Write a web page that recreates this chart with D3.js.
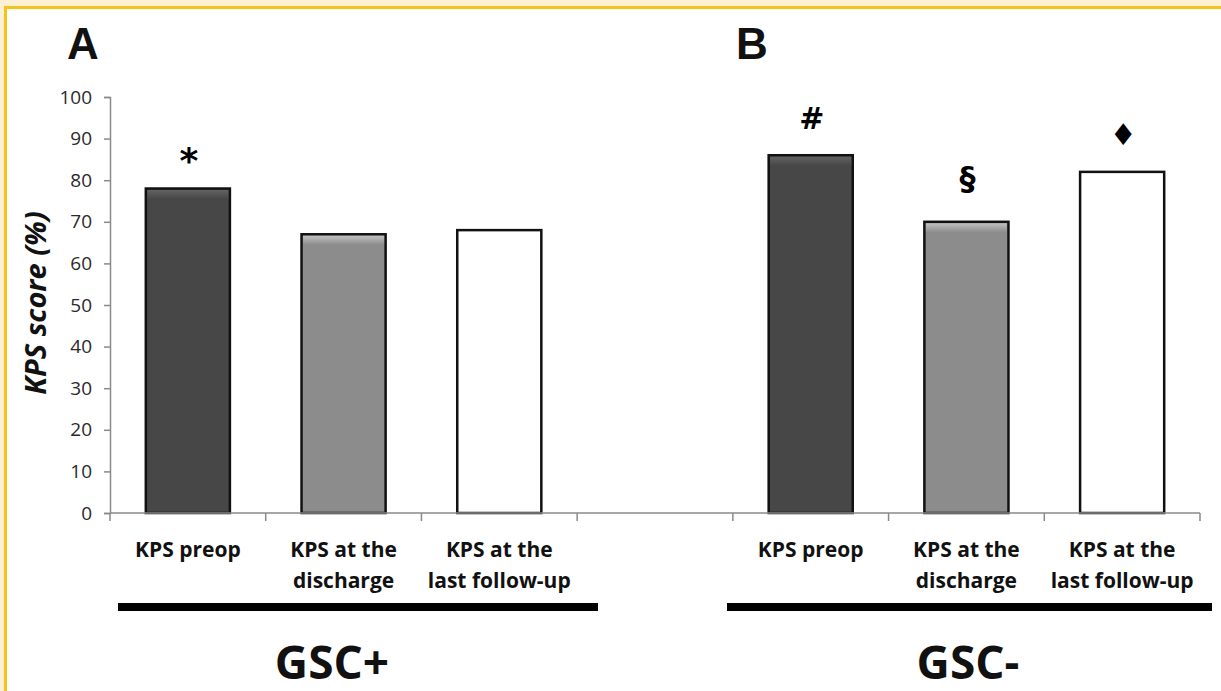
<!DOCTYPE html>
<html>
<head>
<meta charset="utf-8">
<script src="https://cdn.jsdelivr.net/npm/d3@7"></script>
<style>
  body { margin: 0; background: #fdf0d3; }
  svg { display: block; }
</style>
</head>
<body>
<script>
// chart values
var groups = ["GSC+", "GSC-"];
var panels = ["A", "B"];
var categoryLines = [["KPS preop"], ["KPS at the", "discharge"], ["KPS at the", "last follow-up"]];
var gscPlus = [78, 67, 68];
var gscMinus = [86, 70, 82];
var marksPlus = ["*", "", ""];
var marksMinus = ["#", "§", "\u2666"];
var yTicks = [0, 10, 20, 30, 40, 50, 60, 70, 80, 90, 100];
var fills = ["#474747", "#8c8c8c", "#ffffff"];

var W = 1221, H = 691;

var svg = d3.select("body").append("svg")
  .attr("width", W)
  .attr("height", H);

// frame: cream strip, gold rule, white sheet
svg.append("rect").attr("x", 0).attr("y", 0).attr("width", W).attr("height", H).attr("fill", "#fdf0d3");
svg.append("rect").attr("x", 4).attr("y", 6).attr("width", W).attr("height", H).attr("fill", "#f6c21c");
svg.append("rect").attr("x", 7).attr("y", 9).attr("width", W).attr("height", H).attr("fill", "#ffffff");

// build rows: three slots per group with an empty slot between groups
var rows = [];
[gscPlus, gscMinus].forEach(function(vals, g) {
  var marks = g == 0 ? marksPlus : marksMinus;
  vals.forEach(function(v, i) {
    rows.push({key: groups[g] + i, group: g, idx: i, value: v, mark: marks[i]});
  });
});
var domain = rows.slice(0, 3).map(function(d){ return d.key; })
  .concat(["gap"])
  .concat(rows.slice(3).map(function(d){ return d.key; }));

var x = d3.scaleBand().domain(domain).range([110, 1200]).padding(0);
var y = d3.scaleLinear().domain([0, 100]).range([513, 97]);

var barW = x.bandwidth() * 0.54;

// y axis
var yAxis = svg.append("g")
  .attr("transform", "translate(110,0)")
  .call(d3.axisLeft(y).tickValues(yTicks).tickSize(6).tickPadding(12));
yAxis.select(".domain").attr("stroke", "#8a8a8a").attr("stroke-width", 1.5);
yAxis.selectAll(".tick line").attr("stroke", "#8a8a8a").attr("stroke-width", 1.5);
yAxis.selectAll(".tick text")
  .attr("font-family", "'Open Sans', sans-serif")
  .attr("font-size", "19px")
  .attr("fill", "#2a2a2a");

// gradient for the bevelled top of each bar
var defs = svg.append("defs");
fills.forEach(function(c, i) {
  var gr = defs.append("linearGradient").attr("id", "bev" + i)
    .attr("x1", 0).attr("y1", 0).attr("x2", 0).attr("y2", 1);
  gr.append("stop").attr("offset", "0%").attr("stop-color", d3.color(c).brighter(0.9));
  gr.append("stop").attr("offset", "100%").attr("stop-color", c);
});

var bars = svg.selectAll(".bar").data(rows).enter().append("g").attr("class", "bar");
bars.append("rect")
  .attr("x", function(d){ return x(d.key) + (x.bandwidth() - barW) / 2; })
  .attr("y", function(d){ return y(d.value); })
  .attr("width", barW)
  .attr("height", function(d){ return y(0) - y(d.value); })
  .attr("fill", function(d){ return fills[d.idx]; })
  .attr("stroke", "#111")
  .attr("stroke-width", 2.5);
bars.filter(function(d){ return d.idx < 2; }).append("rect")
  .attr("x", function(d){ return x(d.key) + (x.bandwidth() - barW) / 2 + 1.5; })
  .attr("y", function(d){ return y(d.value) + 1.5; })
  .attr("width", barW - 3)
  .attr("height", 9)
  .attr("fill", function(d){ return "url(#bev" + d.idx + ")"; });

// x axis with ticks at slot boundaries
var xa = svg.append("g");
xa.append("line").attr("x1", 110).attr("x2", 1200).attr("y1", y(0)).attr("y2", y(0))
  .attr("stroke", "#8a8a8a").attr("stroke-width", 1.5);
xa.selectAll(".xt").data(domain.concat(["end"])).enter().append("line")
  .attr("x1", function(d){ return d == "end" ? 1200 : x(d); })
  .attr("x2", function(d){ return d == "end" ? 1200 : x(d); })
  .attr("y1", y(0)).attr("y2", y(0) + 8)
  .attr("stroke", "#8a8a8a").attr("stroke-width", 1.5);

// category labels
var lab = svg.selectAll(".cat").data(rows).enter().append("text")
  .attr("class", "cat")
  .attr("text-anchor", "middle")
  .attr("font-family", "'Open Sans', sans-serif")
  .attr("font-weight", "bold")
  .attr("font-size", "21px")
  .attr("fill", "#111");
lab.selectAll("tspan").data(function(d){
    return categoryLines[d.idx].map(function(t){ return {t: t, cx: x(d.key) + x.bandwidth() / 2}; });
  }).enter().append("tspan")
  .attr("x", function(d){ return d.cx; })
  .attr("y", function(d, i){ return 557 + i * 31; })
  .text(function(d){ return d.t; });

// significance marks, centred a fixed gap above each bar
svg.selectAll(".mark").data(rows.filter(function(d){ return d.mark; })).enter().append("text")
  .attr("text-anchor", "middle")
  .attr("x", function(d){ return x(d.key) + x.bandwidth() / 2 + 1; })
  .attr("y", function(d){ return y(d.value) - (d.mark == "§" ? 44 : 37); })
  .attr("dominant-baseline", "central")
  .attr("font-family", "'DejaVu Sans', sans-serif")
  .attr("font-weight", "bold")
  .attr("font-size", function(d){ return d.mark == "*" ? "36px" : d.mark == "§" ? "32px" : "30px"; })
  .attr("dy", function(d){ return d.mark == "*" ? "0.25em" : "0"; })
  .text(function(d){ return d.mark; });

// group bars and names
var groupSpan = [[118, 598], [727, 1212]];
var groupLabelX = [332, 968];
groups.forEach(function(g, i) {
  svg.append("line")
    .attr("x1", groupSpan[i][0]).attr("x2", groupSpan[i][1])
    .attr("y1", 607).attr("y2", 607)
    .attr("stroke", "#000").attr("stroke-width", 8);
  svg.append("text")
    .attr("x", groupLabelX[i])
    .attr("y", 679)
    .attr("text-anchor", "middle")
    .attr("font-family", "'Open Sans', sans-serif")
    .attr("font-weight", "bold")
    .attr("font-size", "46px")
    .attr("fill", "#111")
    .text(g);
});

// panel letters
svg.selectAll(".panel").data(panels).enter().append("text")
  .attr("x", function(d, i){ return i == 0 ? 67 : 736; })
  .attr("y", 59)
  .attr("font-family", "'Liberation Sans', Arial, sans-serif")
  .attr("font-weight", "bold")
  .attr("font-size", "44px")
  .attr("fill", "#111")
  .text(function(d){ return d; });

// y axis title
svg.append("text")
  .attr("transform", "translate(46,303) rotate(-90)")
  .attr("text-anchor", "middle")
  .attr("font-family", "'Open Sans', sans-serif")
  .attr("font-weight", "bold")
  .attr("font-style", "italic")
  .attr("font-size", "29px")
  .attr("fill", "#111")
  .text("KPS score (%)");
</script>
</body>
</html>
